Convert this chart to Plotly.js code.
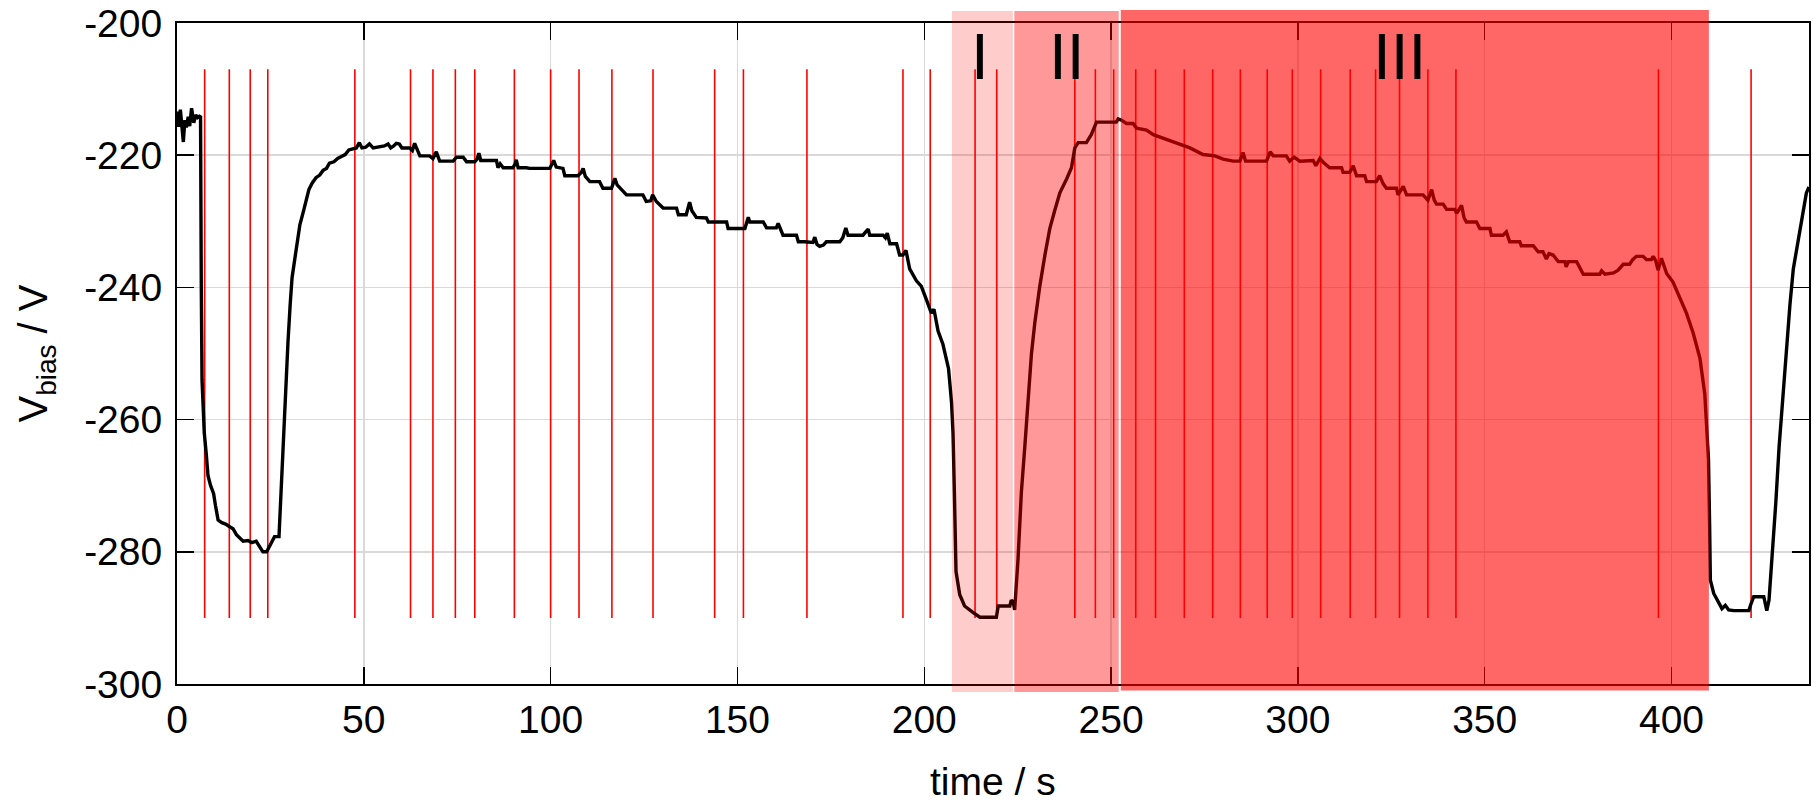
<!DOCTYPE html>
<html>
<head>
<meta charset="utf-8">
<script src="https://cdn.plot.ly/plotly-3.0.1.min.js"></script>
<style>
  html, body { margin: 0; padding: 0; background: #ffffff; }
  #chart { width: 1813px; height: 802px; }
</style>
</head>
<body>
<div id="chart"></div>
<script>
// ---- data ----
const timeS = [
  0, 0.45, 0.9, 1.3, 1.7, 2.1, 2.5, 3.0, 3.4, 3.9, 4.5, 5.0, 5.5, 6.0, 6.3,
  6.5, 6.7, 7.0, 7.3, 7.8, 8.3, 9.0, 9.8, 10.3, 11.0, 12.0, 13.0, 14.1, 15.0, 15.9, 16.8, 17.7, 19.0, 20.0, 21.2, 22.0, 23.0, 24.0, 24.4, 25.2, 26.1, 27.3,
  27.6, 27.9, 28.4, 28.8, 29.2, 29.7, 30.3, 30.8, 31.5, 32.2, 32.9, 33.7, 34.5, 35.3, 36.2, 37.2, 38.2, 39.1, 40.0, 40.8, 42.0, 43.0, 44.0, 45.0, 46.0, 47.5, 48.0, 48.8, 49.5,
  50.5, 51.5, 52.5, 54.0, 55.5, 56.5, 57.2, 58.0, 58.7, 59.5, 60.2, 62.3, 63.0, 63.6, 64.3, 65.0, 67.6, 68.5, 69.4, 70.3, 73.9, 74.8, 76.6, 77.5, 79.7, 80.3, 80.8, 81.3, 85.5, 85.9, 86.5, 87.3, 89.9, 90.5, 90.8, 91.3, 93.5, 94.4, 99.8,
  100.3, 100.8, 101.5, 103.3, 103.8, 107.3, 108.2, 108.7, 109.3, 110.5, 113.1, 114.0, 116.3, 116.8, 117.2, 117.8, 119.0, 120.3, 124.7, 125.6, 126.8, 127.3, 128.3, 130.1, 133.7, 134.2, 136.3, 136.8, 137.2, 137.8, 139.0, 141.7, 142.2, 147.1, 147.5, 152.0, 152.5, 152.9, 153.3, 156.9, 157.8, 160.4, 160.9, 161.5, 162.2, 165.8, 166.3, 168.0, 170.2, 170.7, 171.3, 172.0, 173.0, 173.8, 177.4, 178.2, 179.0, 179.6, 183.6, 184.5, 185.0, 185.4, 189.0, 189.6, 190.1, 190.8, 192.6, 193.4, 194.3, 195.1, 196.1, 197.9, 199.2,
  200.6, 201.9, 202.6, 203.7, 205.0, 206.5, 207.3, 207.7, 208.1, 208.5, 209.5, 210.8, 213.1, 214.9, 219.3, 219.8, 222.9, 223.3, 223.8, 224.2, 225.1, 226.0, 226.9, 227.8, 228.7, 229.6, 230.9, 232.3, 233.6, 234.9, 236.3, 238.1, 239.4, 240.3, 241.2, 243.4, 244.7, 246.1, 251.4, 251.9, 252.8, 254.1, 255.9, 256.8, 259.5, 261.3, 264.8, 267.5, 271.1, 274.6, 277.8, 280.0, 282.7, 284.5, 285.3, 286.0, 291.6, 292.6, 293.4, 296.9, 297.8, 299.0,
  300.5, 304.1, 304.8, 305.9, 307.0, 308.5, 311.7, 312.1, 313.9, 314.8, 315.7, 317.9, 318.4, 321.0, 321.9, 322.8, 323.7, 326.4, 326.8, 328.2, 329.1, 333.5, 334.8, 335.8, 336.5, 337.1, 338.9, 339.8, 342.0, 342.5, 343.8, 344.5, 345.1, 347.8, 348.7, 351.4, 351.8, 354.9, 355.8, 356.7, 359.4, 359.8, 363.0, 364.3, 365.6, 366.5, 367.2, 368.3, 369.7, 371.5, 371.8, 372.4, 374.6, 376.4, 380.8, 381.3, 382.2, 384.5, 385.7, 387.1, 388.8, 389.6, 390.6, 392.4, 393.3, 394.6, 395.1, 395.8, 396.4, 397.3, 398.7,
  400.4, 402.2, 404.0, 405.8, 407.6, 408.9, 409.5, 409.9, 410.2, 410.4, 411.3, 412.2, 413.5, 414.4, 415.3, 416.7, 420.7, 421.2, 422.0, 424.7, 425.5, 426.1, 427.0, 427.9, 428.8, 429.5, 430.3, 431.7, 432.6, 433.9, 435.2, 436.1, 436.8
];
const vBias = [
  -213.4, -215.7, -213.1, -216.2, -218.0, -214.7, -215.8, -214.2, -215.6, -212.9, -215.1, -213.9, -214.3, -214.1, -214.2,
  -240, -254, -258, -262, -265, -268.5, -270, -271.2, -273, -275.2, -275.6, -275.8, -276.2, -276.5, -277.4, -277.9, -278.4, -278.3, -278.6, -278.4, -279.2, -280.0, -280.0, -279.6, -278.6, -277.7, -277.7,
  -274, -270.5, -264, -257.5, -252.5, -248.3, -242.5, -238.5, -235.8, -233, -230.5, -228.8, -227, -225.2, -224.2, -223.4, -223.0, -222.3, -222.0, -221.2, -221.0, -220.5, -220.2, -219.9, -219.2, -219.0, -218.9, -218.1, -218.9,
  -218.8, -218.3, -218.9, -218.8, -218.6, -218.3, -218.9, -218.6, -218.2, -218.3, -218.9, -218.9, -219.3, -218.2, -219.3, -220.1, -220.1, -220.5, -219.5, -220.9, -220.9, -220.3, -220.3, -221.0, -221.0, -220.6, -219.7, -220.8, -220.8, -221.9, -221.3, -221.9, -221.9, -221.3, -220.7, -221.9, -221.9, -222.0, -222.0,
  -221.4, -220.8, -221.8, -222.0, -223.1, -223.1, -222.6, -222.0, -223.2, -224.0, -224.0, -225.0, -225.0, -224.3, -223.5, -224.5, -225.2, -226.0, -226.0, -227.0, -226.9, -226.0, -227.0, -228.0, -228.0, -229.0, -229.0, -227.9, -227.1, -228.4, -229.4, -229.5, -230.1, -230.1, -231.1, -231.1, -230.0, -229.4, -230.1, -230.1, -231.0, -231.0, -230.3, -231.3, -232.1, -232.1, -233.1, -233.1, -233.2, -232.4, -233.5, -233.8, -233.6, -233.1, -233.1, -232.5, -231.0, -232.1, -232.1, -231.5, -231.2, -232.1, -232.1, -232.5, -231.8, -233.4, -233.4, -235.1, -235.1, -234.4, -237.2, -239.0, -239.8,
  -241.9, -243.9, -243.3, -246.6, -248.6, -252.3, -257.4, -262, -272, -283, -286.5, -288.2, -289.2, -289.9, -289.9, -288.2, -288.2, -287.3, -287.6, -288.8, -281.1, -270.9, -264.2, -256.1, -250.0, -245.3, -239.9, -235.1, -231.1, -228.4, -225.7, -223.6, -221.9, -218.9, -218.1, -218.1, -216.9, -215.0, -215.0, -214.5, -214.7, -215.2, -215.2, -215.9, -216.2, -216.9, -217.6, -218.2, -218.9, -219.9, -220.1, -220.6, -220.9, -220.9, -219.6, -220.9, -220.9, -219.5, -220.1, -220.1, -220.9, -220.3,
  -220.9, -220.8, -221.6, -220.5, -221.2, -221.9, -221.9, -222.6, -222.6, -221.6, -223.1, -223.1, -224.0, -224.0, -223.1, -224.3, -225.0, -225.0, -226.0, -224.7, -226.0, -226.0, -226.8, -225.2, -226.8, -227.4, -227.4, -228.2, -228.2, -228.8, -227.6, -229.5, -230.1, -230.1, -231.1, -231.1, -232.1, -232.1, -231.6, -233.1, -233.1, -233.7, -233.7, -234.6, -234.6, -235.7, -234.9, -235.1, -236.1, -236.1, -236.9, -236.1, -236.1, -238.0, -238.0, -237.5, -238.0, -237.8, -237.4, -236.5, -236.5, -235.8, -235.3, -235.3, -235.8, -235.8, -235.3, -236.0, -237.4, -235.6, -237.9,
  -239.2, -241.6, -243.9, -246.9, -250.7, -256.1, -261.5, -266, -276, -284.3, -286.3, -287.3, -288.6, -288.1, -288.8, -288.9, -288.9, -288.0, -286.8, -286.8, -288.9, -287.3, -280.2, -272.7, -264.1, -259, -252.0, -242.6, -237.2, -233.1, -228.4, -225.7, -224.8
];

// red marker lines (time in s)
const markerTimes = [7.4, 14.0, 19.6, 24.3, 47.6, 62.5, 68.5, 74.5, 79.7, 90.3, 100.0, 107.6, 116.4, 127.4, 143.9, 151.6, 168.6, 194.3, 201.6, 213.6, 219.4, 240.3, 245.8, 250.7, 256.6, 261.9, 269.6, 277.2, 284.6, 291.8, 298.5, 306.1, 314.0, 320.8, 327.2, 334.8, 342.3, 396.5, 421.3];
const markerTop = -207;
const markerBottom = -290;

// phases
const phaseLabels = ['I', 'II', 'III'];
const phaseStart = [207.4, 224.1, 252.6];
const phaseEnd = [223.7, 252.05, 410.0];
const phaseLabelX = [215.0, 238.2, 327.2];
const phaseColors = ['rgba(255,0,0,0.2)', 'rgba(255,0,0,0.4)', 'rgba(255,0,0,0.6)'];

const xTicks = [0, 50, 100, 150, 200, 250, 300, 350, 400];
const yTicks = [-300, -280, -260, -240, -220, -200];
const xTitle = 'time / s';
const yTitle = 'V<sub>bias</sub> / V';

// ---- build traces ----
const mx = [], my = [];
markerTimes.forEach(t => { mx.push(t, t, null); my.push(markerBottom, markerTop, null); });

const traces = [
  { x: mx, y: my, type: 'scatter', mode: 'lines', line: { color: '#ff0000', width: 1.6 }, hoverinfo: 'skip', showlegend: false },
  { x: timeS, y: vBias, type: 'scatter', mode: 'lines', line: { color: '#000000', width: 3.4 }, showlegend: false }
];

const shapes = phaseStart.map((s, i) => ({
  type: 'rect', xref: 'x', yref: 'paper', x0: s, x1: phaseEnd[i],
  y0: i === 2 ? -0.010 : -0.012, y1: i === 2 ? 1.0197 : 1.018,
  fillcolor: phaseColors[i], line: { width: 0 }, layer: 'above'
}));

const fam = 'Liberation Sans, Arial, Helvetica, sans-serif';
const font = { family: fam, size: 39, color: '#000000' };

const annotations = phaseLabels.map((txt, i) => ({
  text: txt, x: phaseLabelX[i], y: -205.1, xref: 'x', yref: 'y',
  xanchor: 'center', yanchor: 'middle', showarrow: false,
  font: { family: fam, size: 64, color: '#000000' }
}));
// x-axis title (placed below the tick labels)
annotations.push({
  text: xTitle, xref: 'paper', yref: 'paper', x: 0.5, y: -0.148,
  xanchor: 'center', yanchor: 'middle', showarrow: false, borderpad: 0,
  font: { family: fam, size: 39, color: '#000000' }
});

const layout = {
  width: 1813, height: 802,
  margin: { l: 177, r: 4, t: 23, b: 118, pad: 0 },
  paper_bgcolor: '#ffffff', plot_bgcolor: '#ffffff',
  font: font,
  showlegend: false,
  xaxis: {
    range: [0, 436.8], tickvals: xTicks, ticktext: xTicks.map(String),
    ticks: 'inside', ticklen: 17, tickwidth: 1.5, tickcolor: '#000000',
    showline: true, linecolor: '#000000', linewidth: 2, mirror: 'ticks',
    showgrid: true, gridcolor: '#d9d9d9', gridwidth: 1.5, zeroline: false,
    tickfont: font,
    automargin: false
  },
  yaxis: {
    range: [-300, -200], tickvals: yTicks, ticktext: yTicks.map(String),
    ticks: 'inside', ticklen: 17, tickwidth: 1.5, tickcolor: '#000000',
    showline: true, linecolor: '#000000', linewidth: 2, mirror: 'ticks',
    showgrid: true, gridcolor: '#d9d9d9', gridwidth: 1.5, zeroline: false,
    tickfont: font, ticklabelstandoff: 5,
    title: { text: yTitle, font: { family: fam, size: 40, color: '#000' }, standoff: 24 },
    automargin: false
  },
  shapes: shapes,
  annotations: annotations
};

Plotly.newPlot('chart', traces, layout, { staticPlot: true, displayModeBar: false });
</script>
</body>
</html>
